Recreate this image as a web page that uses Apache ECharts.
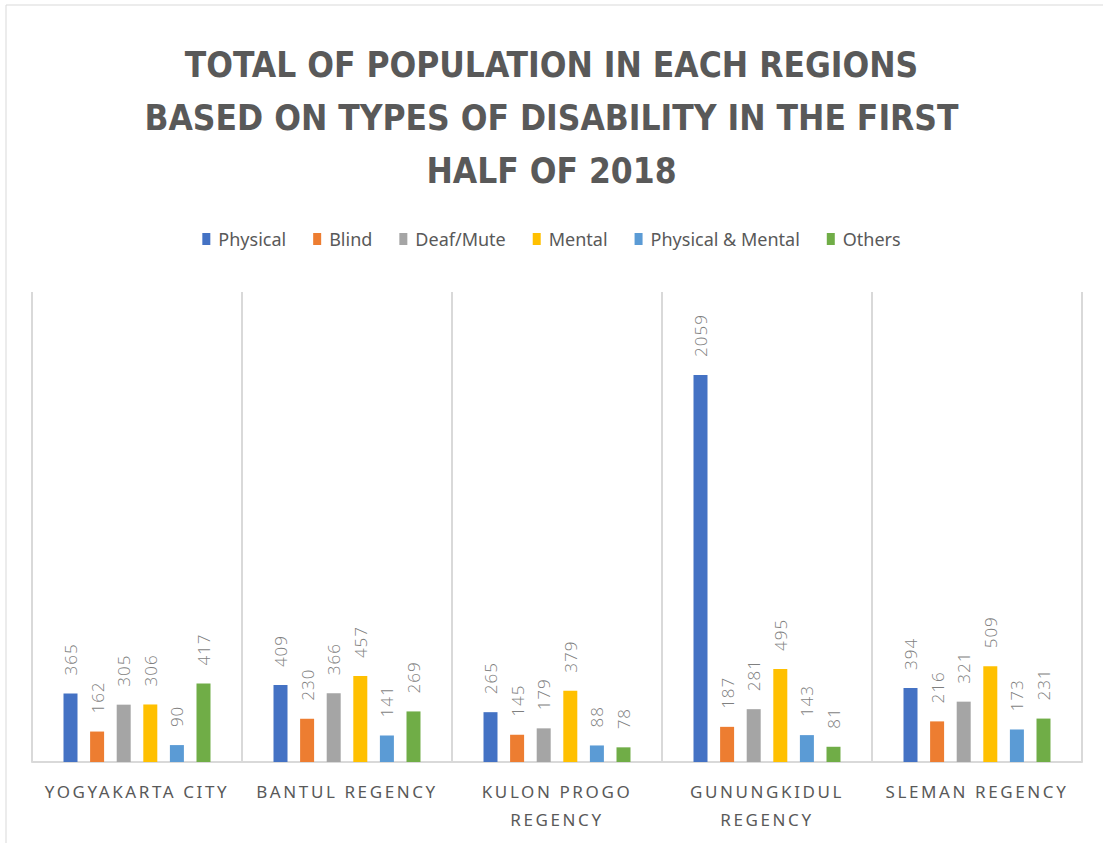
<!DOCTYPE html>
<html lang="en">
<head>
    <meta charset="UTF-8">
    <script src="https://cdn.jsdelivr.net/npm/echarts@6/dist/echarts.min.js"></script>
    <title>Disability by region</title>
    <style>
        body { margin: 0; background: #fff; }
    </style>
</head>
<body>
    <div id="main" style="width: 1103px; height: 843px;"></div>

    <script>
        // regions (x axis) and disability types (series)
        var regions = ['YOGYAKARTA CITY', 'BANTUL REGENCY', 'KULON PROGO REGENCY', 'GUNUNGKIDUL REGENCY', 'SLEMAN REGENCY'];
        var types = ['Physical', 'Blind', 'Deaf/Mute', 'Mental', 'Physical & Mental', 'Others'];
        var colors = ['#4472C4', '#ED7D31', '#A5A5A5', '#FFC000', '#5B9BD5', '#70AD47'];

        var physical = [365, 409, 265, 2059, 394];
        var blind = [162, 230, 145, 187, 216];
        var deafMute = [305, 366, 179, 281, 321];
        var mental = [306, 457, 379, 495, 509];
        var physMental = [90, 141, 88, 143, 173];
        var others = [417, 269, 78, 81, 231];

        var values = [physical, blind, deafMute, mental, physMental, others];

        function wrapName(v) {
            return v.length > 15 ? v.replace(' REGENCY', '\nREGENCY') : v;
        }

        var chartDom = document.getElementById('main');
        var myChart = echarts.init(chartDom, null, { renderer: 'svg' });

        var series = types.map(function (name, i) {
            return {
                name: name,
                type: 'bar',
                data: values[i],
                barWidth: 14,
                barGap: '90%',
                itemStyle: { color: colors[i] },
                label: {
                    show: true,
                    position: 'top',
                    distance: 18,
                    rotate: 90,
                    align: 'left',
                    verticalAlign: 'middle',
                    color: '#7f7f7f',
                    fontFamily: 'Open Sans',
                    fontWeight: 300,
                    fontSize: 17
                }
            };
        });

        var option = {
            animation: false,
            title: {
                text: 'TOTAL OF POPULATION IN EACH REGIONS\nBASED ON TYPES OF DISABILITY IN THE FIRST\nHALF OF 2018',
                left: 'center',
                top: 33,
                textStyle: {
                    color: '#595959',
                    fontFamily: 'DejaVu Sans Condensed, Noto Sans, sans-serif',
                    fontWeight: 'bold',
                    fontSize: 35,
                    lineHeight: 53
                }
            },
            legend: {
                top: 225,
                left: 'center',
                itemWidth: 8,
                itemHeight: 12,
                itemGap: 27,
                icon: 'rect',
                textStyle: {
                    color: '#595959',
                    fontFamily: 'Noto Sans',
                    fontSize: 18,
                    padding: [0, 0, 0, 3]
                },
                data: types
            },
            grid: {
                left: 32,
                right: 21,
                top: 292,
                bottom: 81
            },
            xAxis: {
                type: 'category',
                data: regions,
                axisLine: { lineStyle: { color: '#d9d9d9', width: 2 } },
                axisTick: { show: false },
                splitLine: { show: true, lineStyle: { color: '#d9d9d9', width: 2 } },
                axisLabel: {
                    margin: 15,
                    interval: 0,
                    color: '#595959',
                    fontFamily: 'Noto Sans',
                    fontSize: 17,
                    lineHeight: 28,
                    formatter: wrapName
                }
            },
            yAxis: {
                type: 'value',
                min: 0,
                max: 2500,
                show: false,
                splitLine: { show: false }
            },
            graphic: [{
                type: 'rect',
                shape: { x: 6, y: 5, width: 1200, height: 1000 },
                style: { fill: 'none', stroke: '#d9d9d9', lineWidth: 1 },
                silent: true
            }],
            series: series
        };
        myChart.setOption(option);

        // Excel-style tracking on the axis labels and data labels
        var axisLines = [];
        regions.forEach(function (r) {
            wrapName(r).split('\n').forEach(function (l) { axisLines.push(l); });
        });
        function track() {
            document.querySelectorAll('#main text').forEach(function (t) {
                var s = t.textContent;
                if (axisLines.indexOf(s) >= 0) {
                    t.setAttribute('letter-spacing', '2.6');
                } else if (/^\d+$/.test(s)) {
                    t.setAttribute('letter-spacing', '1');
                }
            });
        }
        myChart.on('finished', track);
        track();
    </script>
</body>
</html>
